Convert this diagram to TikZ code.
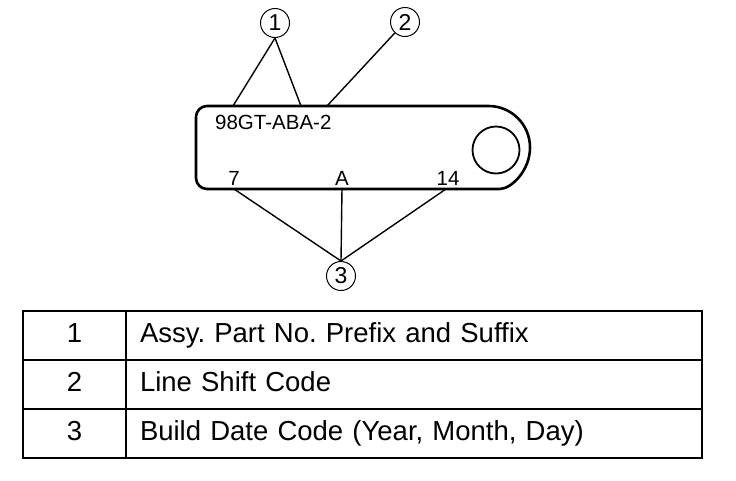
\documentclass[tikz,border=0pt]{standalone}
\usepackage{fontspec}
\setmainfont{Liberation Sans}
\usetikzlibrary{positioning}
\frenchspacing

\begin{document}
\begin{tikzpicture}[x=1pt,y=-1pt,
  callout/.style={circle,draw,line width=1pt,inner sep=0pt,minimum size=29pt,
    font=\fontsize{23}{23}\selectfont},
  lead/.style={line width=1.4pt},
  tagtext/.style={inner sep=0pt,font=\fontsize{20.5}{22}\selectfont},
  numcell/.style={draw,line width=2.5pt,outer sep=0pt,inner sep=0pt,
    text height=20pt,text depth=6pt,
    minimum width=103pt,minimum height=49pt,font=\fontsize{27.5}{30}\selectfont},
  desccell/.style={draw,line width=2.5pt,outer sep=0pt,inner ysep=0pt,inner xsep=14pt,
    text height=20pt,text depth=6pt,
    text width=548pt,minimum height=49pt,align=left,font=\fontsize{27.5}{30}\selectfont}]
 \useasboundingbox (0,0) rectangle (736,480);
 % tag outline and hole
 \draw[line width=2.6pt,rounded corners=11pt] (488.5,106) -- (196,106) -- (196,189)
   -- (488.5,189) [sharp corners] arc(90:-90:41.5);
 \draw[line width=1.8pt] (496,150) circle (23.5);
 \node[tagtext,anchor=base west] (part) at (215,129) {98GT-ABA-2};
 \node[tagtext,anchor=base] (d7) at (234,185) {7};
 \node[tagtext,anchor=base] (dA) at (342,185) {A};
 \node[tagtext,anchor=base] (d14) at (448,185) {14};
 % lead ends on the tag
 \coordinate (p1a) at (233,106);
 \coordinate (p1b) at (301,106);
 \coordinate (p2) at (327,106);
 \coordinate (p3a) at (234,189);
 \coordinate (p3b) at (342,189);
 \coordinate (p3c) at (446,189);
 % callouts
 \node[callout] (c1) at (275,23) {1};
 \node[callout] (c2) at (405,22) {2};
 \node[callout] (c3) at (341,276) {3};
 \draw[lead] (c1.south) -- (p1a);
 \draw[lead] (c1.south) -- (p1b);
 \draw[lead] (c2) -- (p2);
 \draw[lead] (c3.north) -- (p3a);
 \draw[lead] (c3.north) -- (p3b);
 \draw[lead] (c3.north) -- (p3c);
 % legend table
 \node[numcell] (n1) at (74.5,335.5) {1};
 \node[numcell,below=0pt of n1] (n2) {2};
 \node[numcell,below=0pt of n2] (n3) {3};
 \node[desccell,right=0pt of n1] (t1) {Assy. Part No. Prefix and Suffix};
 \node[desccell,right=0pt of n2] (t2) {Line Shift Code};
 \node[desccell,right=0pt of n3] (t3) {Build Date Code (Year, Month, Day)};
\end{tikzpicture}
\end{document}
